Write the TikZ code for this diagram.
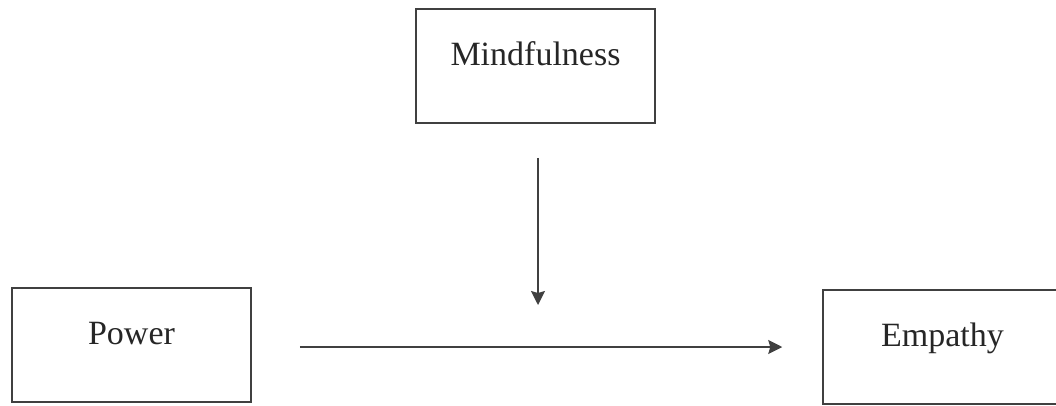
\documentclass[tikz,border=0pt]{standalone}
\usepackage{fontspec}
\setmainfont{Liberation Serif}
\usetikzlibrary{arrows.meta,positioning}

\begin{document}
\begin{tikzpicture}[
    x=1pt, y=-1pt,
    >={Stealth[length=14pt,width=14pt,inset=2pt]},
    font=\fontsize{34}{40}\selectfont,
    % Caixa com o texto na parte de cima
    caixa/.style={draw=black!75, line width=1.5pt, inner sep=0pt,
        minimum width=239pt, text height=56pt, text depth=58pt,
        text=black!85},
    seta/.style={->, draw=black!75, line width=1.5pt}
]

\clip (0,0) rectangle (1056,405);

% --- Caixas ---
\node[caixa] (mind) at (535.5,66)  {Mindfulness};
\node[caixa] (pow)  at (131.5,345) {Power};
\node[caixa] (emp)  at (942.5,347) {Empathy};

% ponto onde a seta vertical aponta
\coordinate (mod) at ([xshift=2.5pt]mind.south |- emp.west);

% --- Setas ---
\draw[seta, shorten <=48pt, shorten >=40pt] ([yshift=-2pt]pow.east) -- (emp.west);
\draw[seta, shorten <=34pt, shorten >=42pt] ([xshift=2.5pt]mind.south) -- (mod);

\end{tikzpicture}
\end{document}
